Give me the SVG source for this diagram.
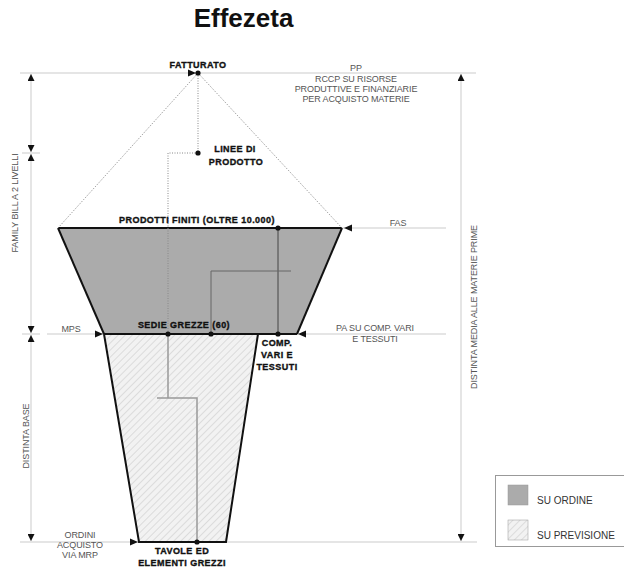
<svg xmlns="http://www.w3.org/2000/svg" width="624" height="572" viewBox="0 0 624 572">
<style>
.b{font-family:"Liberation Sans",Arial,sans-serif;font-weight:bold;font-size:9px;fill:#111;stroke:#111;stroke-width:0.35px;text-anchor:middle;letter-spacing:0.45px}
.g{font-family:"Liberation Sans",Arial,sans-serif;font-size:9px;fill:#555;text-anchor:middle;letter-spacing:-0.1px}
.guide{stroke:#dcdcdc;stroke-width:1.5;fill:none}
.axis{stroke:#dcdcdc;stroke-width:1.5;fill:none;marker-start:url(#ah);marker-end:url(#ah)}
.dot{stroke:#888;stroke-width:1;stroke-dasharray:1 1.5;fill:none}
.edge{stroke:#111;stroke-width:2;stroke-linejoin:miter}
</style>
<defs>
<marker id="ah" viewBox="0 0 10 10" refX="10" refY="5" markerWidth="8" markerHeight="7" markerUnits="userSpaceOnUse" orient="auto-start-reverse">
<path d="M0,0 L10,5 L0,10 Z" fill="#111"/>
</marker>
<pattern id="hatch" width="5" height="5" patternUnits="userSpaceOnUse" patternTransform="rotate(45)">
<rect width="5" height="5" fill="#f2f2f2"/>
<line x1="0" y1="0" x2="0" y2="5" stroke="#c4c4c4" stroke-width="1"/>
</pattern>
<path id="arr" d="M-8,-3.5 L0,0 L-8,3.5 Z" fill="#111"/>
</defs>

<text x="243.5" y="27" font-family="'Liberation Sans',Arial,sans-serif" font-weight="bold" font-size="26" text-anchor="middle" fill="#111">Effezeta</text>

<g id="guides">
<line class="guide" x1="20" y1="73" x2="476" y2="73"/>
<line class="guide" x1="342" y1="228" x2="446" y2="228"/>
<line class="guide" x1="22" y1="153" x2="40" y2="153"/>
<line class="guide" x1="22" y1="334" x2="40" y2="334"/>
<line class="guide" x1="47" y1="334" x2="104" y2="334"/>
<line class="guide" x1="297" y1="334" x2="446" y2="334"/>
<line class="guide" x1="20" y1="542" x2="477" y2="542"/>
<line class="axis" x1="31" y1="74" x2="31" y2="152"/>
<line class="axis" x1="31" y1="154" x2="31" y2="333"/>
<line class="axis" x1="31" y1="335" x2="31" y2="541"/>
<line class="axis" x1="461" y1="74" x2="461" y2="541"/>
</g>

<g id="shape-ordine">
<polygon points="58,228 342,228 297,334 104,334" fill="#ababab"/>
<polyline class="edge" points="58,228 104,334" fill="none"/>
<polyline class="edge" points="342,228 297,334" fill="none"/>
<line class="edge" x1="58" y1="228" x2="342" y2="228"/>
</g>
<g id="shape-previsione">
<polygon points="104,334 258,334 226,542 139,542" fill="url(#hatch)"/>
<polyline class="edge" points="104,334 139,542 226,542 258,334" fill="none"/>
<line class="edge" x1="104" y1="334" x2="297" y2="334"/>
</g>

<g id="connectors">
<line class="dot" x1="198" y1="73" x2="58" y2="228"/>
<line class="dot" x1="198" y1="73" x2="342" y2="228"/>
<polyline class="dot" points="198,73 198,153 168,153 168,334"/>
<line x1="278" y1="228" x2="278" y2="334" stroke="#444" stroke-width="1"/>
<polyline points="211,334 211,271 291,271" stroke="#666" stroke-width="1" fill="none"/>
<polyline points="168,334 168,398" stroke="#999" stroke-width="1.5" fill="none"/>
<polyline points="157,398 197,398 197,542" stroke="#999" stroke-width="1.5" fill="none"/>
<use href="#arr" x="196" y="73"/>
<use href="#arr" transform="translate(344,228) rotate(180)"/>
<use href="#arr" x="103" y="334"/>
<use href="#arr" transform="translate(298,334) rotate(180)"/>
<use href="#arr" x="138" y="542"/>
</g>

<g id="n-fatturato">
<circle cx="198" cy="73" r="2.6" fill="#111"/>
<text class="b" x="198" y="68">FATTURATO</text>
</g>
<g id="n-linee">
<circle cx="198" cy="153" r="2.6" fill="#111"/>
<text class="b" x="235" y="152">LINEE DI</text>
<text class="b" x="236" y="165">PRODOTTO</text>
</g>
<g id="n-prodotti">
<circle cx="278" cy="228" r="2.6" fill="#111"/>
<text class="b" x="197" y="223">PRODOTTI FINITI (OLTRE 10.000)</text>
</g>
<g id="n-sedie">
<circle cx="168" cy="334" r="2.6" fill="#111"/>
<circle cx="211" cy="334" r="2.6" fill="#111"/>
<text class="b" x="184" y="328">SEDIE GREZZE (60)</text>
</g>
<g id="n-comp">
<circle cx="278" cy="334" r="2.6" fill="#111"/>
<text class="b" x="277" y="346">COMP.</text>
<text class="b" x="277" y="358">VARI E</text>
<text class="b" x="277" y="370">TESSUTI</text>
</g>
<g id="n-tavole">
<circle cx="197" cy="542" r="2.6" fill="#111"/>
<text class="b" x="182" y="554">TAVOLE ED</text>
<text class="b" x="182" y="566">ELEMENTI GREZZI</text>
</g>

<g id="labels">
<text class="g" x="356" y="71">PP</text>
<text class="g" x="356" y="82">RCCP SU RISORSE</text>
<text class="g" x="356" y="92">PRODUTTIVE E FINANZIARIE</text>
<text class="g" x="356" y="102">PER ACQUISTO MATERIE</text>
<text class="g" x="398" y="226">FAS</text>
<text class="g" x="71" y="332">MPS</text>
<text class="g" x="375" y="331">PA SU COMP. VARI</text>
<text class="g" x="375" y="342">E TESSUTI</text>
<text class="g" x="80" y="538">ORDINI</text>
<text class="g" x="80" y="548">ACQUISTO</text>
<text class="g" x="80" y="558">VIA MRP</text>
<text class="g" transform="translate(18,203) rotate(-90)">FAMILY BILL A 2 LIVELLI</text>
<text class="g" transform="translate(29,436) rotate(-90)">DISTINTA BASE</text>
<text class="g" transform="translate(477,307) rotate(-90)">DISTINTA MEDIA ALLE MATERIE PRIME</text>
</g>

<g id="legend">
<rect x="495.5" y="475.5" width="135" height="71" fill="#fff" stroke="#999" stroke-width="1"/>
<rect x="508" y="485" width="20" height="20" fill="#ababab" stroke="#999" stroke-width="0.5"/>
<text x="537" y="504" font-family="'Liberation Sans',Arial,sans-serif" font-size="10" fill="#333">SU ORDINE</text>
<rect x="508" y="520" width="20" height="20" fill="url(#hatch)" stroke="#999" stroke-width="0.5"/>
<text x="537" y="539" font-family="'Liberation Sans',Arial,sans-serif" font-size="10" fill="#333">SU PREVISIONE</text>
</g>
</svg>
